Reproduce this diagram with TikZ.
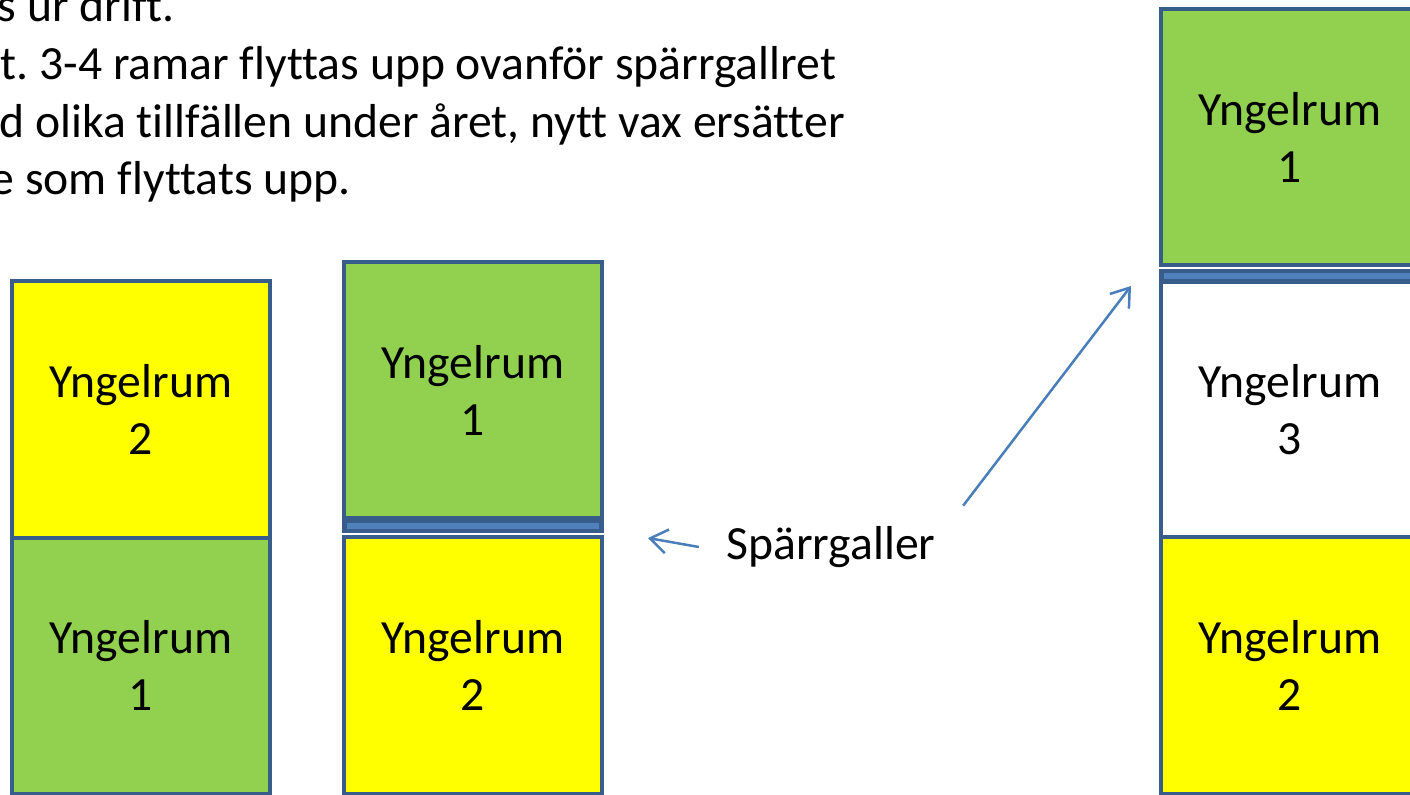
\documentclass[tikz,border=0pt]{standalone}
\usepackage{fontspec}
\setmainfont{Carlito}[Ligatures=NoCommon]
\usepackage{xcolor}
\usepackage{tikz}
\definecolor{hiveedge}{RGB}{56, 93, 138}
\definecolor{gridblue}{RGB}{79, 129, 189}
\definecolor{arrowblue}{RGB}{74, 126, 187}
\definecolor{broodgreen}{RGB}{146, 208, 80}
\definecolor{broodyellow}{RGB}{255, 255, 0}
\usetikzlibrary{positioning,arrows.meta}
\frenchspacing

\begin{document}
\begin{tikzpicture}[x=0.01cm, y=-0.01cm,
    every node/.style={font=\fontsize{13.55}{16.2}\selectfont},
    broodbox/.style={rectangle, draw=hiveedge, line width=0.04cm, minimum width=2.57cm, minimum height=2.56cm, inner sep=0pt, outer sep=0pt, align=center},
    gridbar/.style={rectangle, draw=hiveedge, fill=gridblue, line width=0.045cm, minimum width=2.57cm, minimum height=0.105cm, inner sep=0pt, outer sep=0pt},
    textline/.style={anchor=base west, inner sep=0pt},
    pointer/.style={-{Straight Barb[length=0.17cm, width=0.24cm]}, arrowblue, line width=0.025cm}]
    \useasboundingbox (0,0) rectangle (1410,794);
    \clip (0,0) rectangle (1410,794);

    % text at the top
    \node[textline] (line1) at (-3,22) {s ur drift.};
    \node[textline] (line2) at (0,80) {t. 3-4 ramar flyttas upp ovanför spärrgallret};
    \node[textline] (line3) at (-1,137) {d olika tillfällen under året, nytt vax ersätter};
    \node[textline] (line4) at (-10,195) {e som flyttats upp.};

    % left stack
    \node[broodbox, fill=broodyellow] (left2) at (141,409.5) {Yngelrum\\2};
    \node[broodbox, fill=broodgreen, below=0pt of left2] (left1) {Yngelrum\\1};

    % middle stack
    \node[broodbox, fill=broodyellow] (mid2) at (473,665.5) {Yngelrum\\2};
    \node[gridbar, above=0.065cm of mid2] (midgrid) {};
    \node[broodbox, fill=broodgreen, above=0.02cm of midgrid] (mid1) {Yngelrum\\1};

    % right stack
    \node[broodbox, fill=broodyellow] (right2) at (1290,665.5) {Yngelrum\\2};
    \node[broodbox, fill=white, above=0pt of right2] (right3) {Yngelrum\\3};
    \node[gridbar, above=0pt of right3] (rightgrid) {};
    \node[broodbox, fill=broodgreen, above=0.055cm of rightgrid] (right1) {Yngelrum\\1};

    % label and arrows
    \node[inner xsep=0.27cm, inner ysep=0.2cm] (gridlabel) at (831,547) {Spärrgaller};
    \coordinate (midtip) at (648,538);
    \coordinate (righttip) at (1131,286);

    \draw[pointer] (gridlabel.west) -- (midtip);
    \draw[pointer] (gridlabel.north east) -- (righttip);
\end{tikzpicture}
\end{document}
